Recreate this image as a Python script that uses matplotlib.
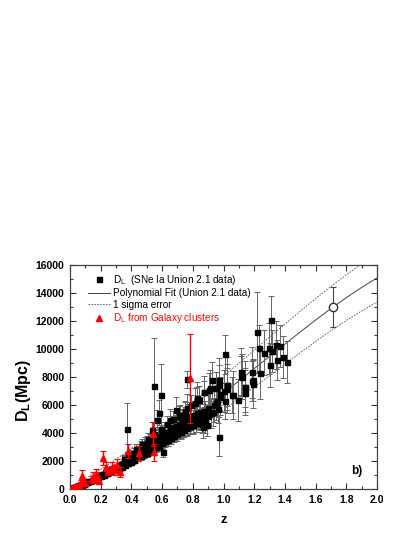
import matplotlib
matplotlib.use("Agg")
import matplotlib.pyplot as plt
from matplotlib.lines import Line2D
from matplotlib.ticker import MultipleLocator, FormatStrFormatter

plt.rcParams['font.family'] = ['Liberation Sans', 'DejaVu Sans']
plt.rcParams['mathtext.fontset'] = 'custom'
plt.rcParams['mathtext.rm'] = 'Liberation Sans'
plt.rcParams['mathtext.bf'] = 'Liberation Sans:bold'
plt.rcParams['mathtext.it'] = 'Liberation Sans:italic'

# SNe Ia (Union 2.1), low redshift
low_z = [0.012, 0.015, 0.017, 0.020, 0.022, 0.025, 0.028, 0.030, 0.032, 0.035, 0.038, 0.040, 0.043, 0.046,
         0.050, 0.053, 0.056, 0.060, 0.064, 0.068, 0.072, 0.076, 0.080, 0.085, 0.090, 0.095, 0.100,
         0.11, 0.12, 0.13, 0.14, 0.15, 0.15, 0.16, 0.17, 0.18, 0.18, 0.19, 0.20, 0.20, 0.21, 0.22, 0.22,
         0.23, 0.24, 0.25, 0.25, 0.26, 0.27, 0.27, 0.28, 0.29, 0.29, 0.30]
low_d = [52, 68, 72, 88, 99, 108, 125, 130, 142, 152, 170, 176, 188, 205,
         218, 236, 243, 265, 282, 300, 312, 336, 350, 375, 392, 418, 440,
         480, 540, 570, 640, 700, 620, 730, 800, 840, 920, 900, 950, 1050, 1010, 1060, 980,
         1120, 1170, 1230, 1350, 1300, 1340, 1450, 1420, 1460, 1380, 1530]
low_err = [5, 6, 6, 7, 8, 8, 9, 10, 10, 11, 12, 12, 13, 15,
           16, 17, 18, 20, 21, 22, 23, 25, 27, 29, 30, 32, 34,
           40, 45, 50, 60, 70, 60, 80, 90, 100, 110, 110, 120, 140, 130, 140, 130,
           150, 160, 170, 190, 180, 200, 220, 210, 230, 220, 250]

# SNe Ia, main band 0.3 < z < 0.95
band_z = [0.31, 0.32, 0.33, 0.34, 0.35, 0.35, 0.36, 0.37, 0.38, 0.38, 0.39, 0.40, 0.40, 0.41, 0.42, 0.42,
          0.43, 0.44, 0.44, 0.45, 0.46, 0.46, 0.47, 0.48, 0.48, 0.49, 0.50, 0.50, 0.51, 0.52, 0.52, 0.53,
          0.54, 0.55, 0.55, 0.56, 0.57, 0.58, 0.58, 0.59, 0.60, 0.60,
          0.61, 0.62, 0.63, 0.64, 0.65, 0.66, 0.67, 0.68, 0.69, 0.70, 0.71, 0.72, 0.73, 0.74,
          0.75, 0.76, 0.77, 0.78, 0.79, 0.80, 0.81, 0.82, 0.83, 0.84, 0.85, 0.86, 0.87, 0.88,
          0.90, 0.92, 0.94]
band_d = [1600, 1700, 1750, 1800, 1900, 2100, 1950, 2050, 2250, 1900, 2200, 2300, 2000, 2400, 2350, 2600,
          2500, 2700, 2350, 2800, 2650, 3000, 2900, 2750, 3100, 3200, 2950, 3300, 3100, 3400, 3000, 3250,
          3500, 3300, 3700, 3450, 3600, 3800, 3300, 3700, 3900, 3500,
          4050, 3800, 4100, 3950, 4300, 4100, 4400, 4250, 4500, 4350, 4650, 4400, 4800, 4600,
          4950, 4700, 5100, 4900, 5200, 4800, 5300, 5000, 5400, 5150, 5500, 4900, 5600, 5300,
          5800, 5400, 6000]
band_err = [180, 200, 190, 220, 230, 260, 240, 250, 300, 220, 280, 300, 250, 320, 300, 360,
            330, 380, 300, 400, 360, 450, 420, 380, 470, 500, 420, 520, 470, 540, 450, 500,
            560, 520, 620, 560, 600, 650, 540, 620, 680, 580,
            700, 650, 720, 680, 760, 700, 800, 740, 820, 760, 850, 780, 900, 820,
            930, 850, 960, 880, 1000, 860, 1020, 920, 1050, 960, 1080, 900, 1100, 1000,
            1150, 1050, 1200]

# SNe Ia, lower and upper edges of the band
edge_z = [0.30, 0.32, 0.34, 0.36, 0.38, 0.40, 0.42, 0.44, 0.46, 0.48, 0.50, 0.52, 0.54, 0.56, 0.58,
          0.60, 0.62, 0.64, 0.66, 0.68, 0.70, 0.72, 0.74, 0.76, 0.78, 0.80, 0.82, 0.84, 0.86, 0.88, 0.90,
          0.35, 0.39, 0.43, 0.47, 0.51, 0.55, 0.59, 0.63, 0.67, 0.71, 0.75, 0.79, 0.83, 0.87]
edge_d = [1400, 1480, 1600, 1700, 1850, 1950, 2100, 2250, 2350, 2500, 2600, 2750, 2850, 3000, 3100,
          3250, 3400, 3500, 3650, 3800, 3900, 4050, 4200, 4350, 4500, 4600, 4700, 4800, 4650, 5000, 5200,
          2150, 2500, 2850, 3200, 3550, 3950, 4300, 4650, 5000, 5300, 5600, 6000, 6500, 6900]
edge_err = [170, 180, 190, 200, 220, 240, 250, 270, 280, 300, 320, 330, 350, 360, 380,
            400, 420, 430, 450, 470, 480, 500, 520, 540, 560, 580, 600, 620, 600, 650, 680,
            260, 300, 350, 390, 430, 480, 520, 560, 600, 640, 680, 720, 780, 830]

# SNe Ia, scattered and high redshift
high_z = [0.373, 0.549, 0.593, 0.762, 0.578, 0.565, 0.532, 0.608, 0.652, 0.688, 0.717, 0.75, 0.76,
          0.814, 0.825, 0.842, 0.847, 0.868, 0.875, 0.879, 0.89, 0.904, 0.912, 0.927, 0.934, 0.951,
          0.951, 0.955, 0.966, 0.971, 0.973, 0.973, 0.979, 0.98, 1.006, 1.008, 1.01, 1.02, 1.02,
          1.024, 1.057, 1.06, 1.092, 1.112, 1.114, 1.12, 1.14, 1.14, 1.14, 1.184, 1.188, 1.19, 1.19,
          1.216, 1.231, 1.238, 1.264, 1.299, 1.303, 1.307, 1.316, 1.34, 1.346, 1.368, 1.386, 1.414]
high_d = [4310, 7380, 6740, 7830, 5450, 4930, 4210, 2660, 4930, 5640, 5170, 5290, 5780,
          6130, 6470, 6370, 5170, 4450, 6950, 4920, 4570, 7060, 7190, 7790, 5490, 7190,
          6120, 6300, 5720, 3740, 7790, 7430, 6600, 6780, 7020, 6290, 9620, 7430, 7120,
          7430, 6730, 6710, 6360, 8380, 8070, 8020, 7310, 6890, 7260, 8330, 7710, 7790, 7480,
          11190, 10050, 8260, 9740, 10050, 8860, 12070, 9860, 10290, 9210, 10210, 9400, 9100]
high_err = [1800, 3400, 2200, 600, 900, 700, 600, 400, 800, 900, 800, 900, 1000,
            1100, 1200, 1000, 900, 800, 1100, 900, 800, 1200, 1300, 1300, 1000, 1200,
            1200, 1100, 1000, 1400, 1600, 1400, 1300, 1200, 1500, 1300, 1400, 2000, 1500,
            1500, 1300, 1700, 1500, 1700, 1400, 1600, 1800, 1600, 1400, 1800, 1400, 1500, 1700,
            2900, 1700, 1800, 1600, 1800, 1600, 1700, 1500, 1700, 1400, 1500, 1500, 1500]

# galaxy clusters
cl_z = [0.013, 0.023, 0.033, 0.045, 0.06, 0.07, 0.08, 0.09, 0.1, 0.14, 0.152, 0.169, 0.175, 0.184,
        0.19, 0.215, 0.235, 0.25, 0.272, 0.285, 0.304, 0.326, 0.376, 0.451, 0.543, 0.549, 0.782]
cl_d = [60, 110, 170, 230, 290, 520, 930, 450, 420, 700, 880, 1050, 880, 710,
        570, 2220, 1600, 1280, 1520, 1350, 1710, 1240, 2710, 2550, 3930, 2620, 7900]
cl_err = [30, 50, 70, 80, 100, 150, 400, 150, 120, 250, 300, 350, 300, 250,
          220, 500, 350, 300, 400, 350, 450, 350, 500, 500, 850, 600, 3200]

# polynomial fit and 1 sigma band
fit_z = [0.0, 0.1, 0.2, 0.3, 0.4, 0.5, 0.6, 0.7, 0.8, 0.9, 1.0, 1.1, 1.2, 1.3, 1.4, 1.5, 1.6, 1.7, 1.8, 1.9, 2.0]
fit_d = [0, 470, 1000, 1600, 2250, 2930, 3650, 4410, 5200, 6010, 6850, 7720, 8600, 9470, 10350,
         11220, 12070, 12890, 13670, 14400, 15080]
fit_sig = [150, 280, 400, 530, 650, 760, 860, 960, 1050, 1130, 1200, 1260, 1320, 1380, 1430,
           1480, 1530, 1580, 1630, 1680, 1720]

# extrapolated point
pred_z = [1.711]
pred_d = [12980]
pred_err = [1420]

fig = plt.figure(figsize=(4.15, 5.37), dpi=100)
ax = fig.add_axes([0.1687, 0.0894, 0.7398, 0.4171])

upper = [d + s for d, s in zip(fit_d, fit_sig)]
lower = [d - s for d, s in zip(fit_d, fit_sig)]
ax.plot(fit_z, fit_d, color='#444444', lw=0.7, zorder=1)
ax.plot(fit_z, upper, color='#555555', lw=0.6, ls=(0, (2, 1.5)), zorder=1)
ax.plot(fit_z, lower, color='#555555', lw=0.6, ls=(0, (2, 1.5)), zorder=1)

sne_kw = dict(fmt='s', color='black', ms=3.6, ecolor='#666666', elinewidth=0.7,
              capsize=2, capthick=0.7, zorder=2)
ax.errorbar(low_z, low_d, yerr=low_err, **sne_kw)
ax.errorbar(band_z, band_d, yerr=band_err, **sne_kw)
ax.errorbar(edge_z, edge_d, yerr=edge_err, **sne_kw)
ax.errorbar(high_z, high_d, yerr=high_err, **sne_kw)

ax.errorbar(cl_z, cl_d, yerr=cl_err, fmt='^', color='red', ms=4.6, ecolor='red',
            elinewidth=1.0, capsize=2, capthick=0.8, zorder=3)

ax.errorbar(pred_z, pred_d, yerr=pred_err, fmt='o', mfc='white', mec='#333333', ms=6,
            ecolor='#444444', elinewidth=0.8, capsize=2.5, capthick=0.8, zorder=3)

ax.set_xlim(0, 2.0)
ax.set_ylim(0, 16000)
ax.xaxis.set_major_locator(MultipleLocator(0.2))
ax.xaxis.set_minor_locator(MultipleLocator(0.1))
ax.yaxis.set_major_locator(MultipleLocator(2000))
ax.yaxis.set_minor_locator(MultipleLocator(1000))
ax.xaxis.set_major_formatter(FormatStrFormatter('%.1f'))
ax.tick_params(which='both', direction='in', top=True, right=True, colors='#333333',
               labelcolor='black', labelsize=7.5, width=0.8)
ax.tick_params(which='major', length=4, pad=4)
ax.tick_params(which='minor', length=2)
for lab in ax.get_xticklabels() + ax.get_yticklabels():
    lab.set_fontweight('bold')
for sp in ax.spines.values():
    sp.set_color('#444444')
    sp.set_linewidth(0.9)

ax.set_xlabel('z', fontsize=9.5, fontweight='bold', labelpad=7)
ax.set_ylabel(r'$\mathbf{D_L}$(Mpc)', fontsize=11.5, fontweight='bold')
ax.yaxis.set_label_coords(-0.122, 0.44)

ax.text(1.87, 1250, 'b)', fontsize=8.5, fontweight='bold', ha='center', va='center')

handles = [
    Line2D([], [], marker='s', color='black', ls='none', ms=3.6),
    Line2D([], [], color='#444444', lw=0.7),
    Line2D([], [], color='#555555', lw=0.6, ls=(0, (2, 1.5))),
    Line2D([], [], marker='^', color='red', ls='none', ms=4.6),
]
labels = [r'$\mathrm{D_L}$  (SNe Ia Union 2.1 data)', 'Polynomial Fit (Union 2.1 data)',
          '1 sigma error', r'$\mathrm{D_L}$ from Galaxy clusters']
leg = ax.legend(handles, labels, loc='upper left', bbox_to_anchor=(0.058, 0.965), frameon=False,
                fontsize=7.2, handlelength=2.2, handletextpad=0.3, labelspacing=0.15,
                borderpad=0, borderaxespad=0)
leg.get_texts()[3].set_color('red')

fig.savefig('out.png', dpi=100)
